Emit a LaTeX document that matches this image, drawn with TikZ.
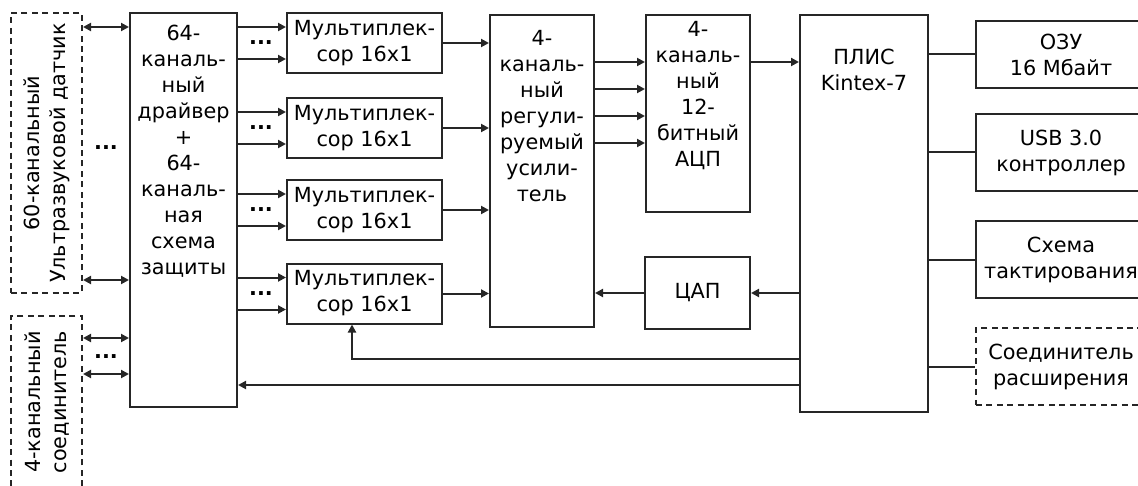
\documentclass[tikz,border=0pt]{standalone}
\usepackage{fontspec}
\setmainfont{DejaVu Sans}
\usetikzlibrary{positioning,arrows.meta,calc}

\begin{document}
\begin{tikzpicture}[x=0.5pt,y=-0.5pt,>={Triangle[length=4pt,width=4pt]},line width=1pt,
  blk/.style={draw=black!85,line width=1pt,inner sep=0pt,align=center,font=\fontsize{10.4}{13}\selectfont},
  dblk/.style={blk,dash pattern=on 3pt off 2.2pt},
  txt/.style={inner sep=0pt,align=center,font=\fontsize{10.4}{13}\selectfont},
  dots/.style={inner sep=0pt,font=\fontsize{10.4}{13}\selectfont\bfseries}]
\useasboundingbox (0,0) rectangle (1138,486);
% left side: sensor and connector
\node[dblk,minimum width=35.5pt,minimum height=140pt] (sen) at (46.5,153) {};
\node[txt,rotate=90] (sentxt) at (sen.center) {60-канальный\\Ультразвуковой датчик};
\node[dblk,minimum width=35.5pt,minimum height=86pt] (conn) at (46.5,402) {};
\node[txt,rotate=90] (conntxt) at (47,402) {4-канальный\\соединитель};
\node[blk,minimum width=53.5pt,minimum height=197pt] (drv) at (183.5,210) {};
\node[txt] (drvtxt) at (183.5,151.5) {64-\\каналь-\\ный\\драйвер\\+\\64-\\каналь-\\ная\\схема\\защиты};
% multiplexers
\foreach \i/\y in {1/43,2/128,3/210,4/293.5}
  \node[blk,minimum width=77.5pt,minimum height=30pt] (mux\i) at (364.5,\y) {Мультиплек-\\сор 16x1};
\node[blk,minimum width=52pt,minimum height=156pt] (amp) at (542,171) {};
\node[txt] (amptxt) at (542,116) {4-\\каналь-\\ный\\регули-\\руемый\\усили-\\тель};
\node[blk,minimum width=52pt,minimum height=98.5pt] (adc) at (698,113.5) {};
\node[txt] (adctxt) at (698,96) {4-\\каналь-\\ный\\12-\\битный\\АЦП};
\node[blk,minimum width=52.5pt,minimum height=36pt] (dac) at (697.5,293) {ЦАП};
\node[blk,minimum width=64pt,minimum height=198.5pt] (fpga) at (864,213.5) {};
\node[txt] (fpgatxt) at (864,69.5) {ПЛИС\\Kintex-7};
% right side
\node[blk,minimum width=85pt,minimum height=33.5pt] (ram) at (1061,54.5) {ОЗУ\\16 Мбайт};
\node[blk,minimum width=85pt,minimum height=38.5pt] (usb) at (1061,152.5) {USB 3.0\\контроллер};
\node[blk,minimum width=85pt,minimum height=38.5pt] (clk) at (1061,259.5) {Схема\\тактирования};
\node[dblk,minimum width=85pt,minimum height=38.5pt] (ext) at (1061,366.5) {Соединитель\\расширения};

% sensor/connector <-> driver
\coordinate (s1) at ($(sen.north east)+(0,15)$);
\coordinate (s2) at ($(sen.south east)+(0,-14)$);
\coordinate (c1) at ($(conn.north east)+(0,23)$);
\coordinate (c2) at ($(conn.north east)+(0,59)$);
\foreach \p in {s1,s2,c1,c2}
  \draw[<->,draw=black!85] (\p) -- (drv.west |- \p);
\node[dots] (sdots) at (106,148) {...};
\node[dots] (cdots) at (106,357) {...};
% driver -> multiplexers -> amplifier
\foreach \i in {1,2,3,4}{
  \coordinate (m\i a) at ($(mux\i.north west)+(0,15)$);
  \coordinate (m\i b) at ($(mux\i.south west)+(0,-15)$);
  \draw[->,draw=black!85] (drv.east |- m\i a) -- (m\i a);
  \draw[->,draw=black!85] (drv.east |- m\i b) -- (m\i b);
  \node[dots] (mdots\i) at ($(mux\i.west)+(-25,0)$) {...};
  \draw[->,draw=black!85] (mux\i.east) -- (amp.west |- mux\i.east);
}
% amplifier -> ADC -> FPGA
\foreach \k/\d in {1/48,2/75,3/102,4/129}{
  \coordinate (a\k) at ($(adc.north west)+(0,\d)$);
  \draw[->,draw=black!85] (amp.east |- a\k) -- (a\k);
}
\draw[->,draw=black!85] (a1 -| adc.east) -- (a1 -| fpga.west);
% FPGA -> DAC -> amplifier
\draw[->,draw=black!85] (fpga.west |- dac.east) -- (dac.east);
\draw[->,draw=black!85] (dac.west) -- (amp.east |- dac.west);
% control lines
\coordinate (selrow) at (0,359);
\coordinate (ctlrow) at (0,385);
\coordinate (m4s) at ($(mux4.south west)+(66,0)$);
\draw[->,draw=black!85] (fpga.west |- selrow) -| (m4s);
\draw[->,draw=black!85] (fpga.west |- ctlrow) -- (drv.east |- ctlrow);
\foreach \b in {ram,usb,clk,ext}
  \draw[draw=black!85] (fpga.east |- \b.west) -- (\b.west);
\end{tikzpicture}
\end{document}
